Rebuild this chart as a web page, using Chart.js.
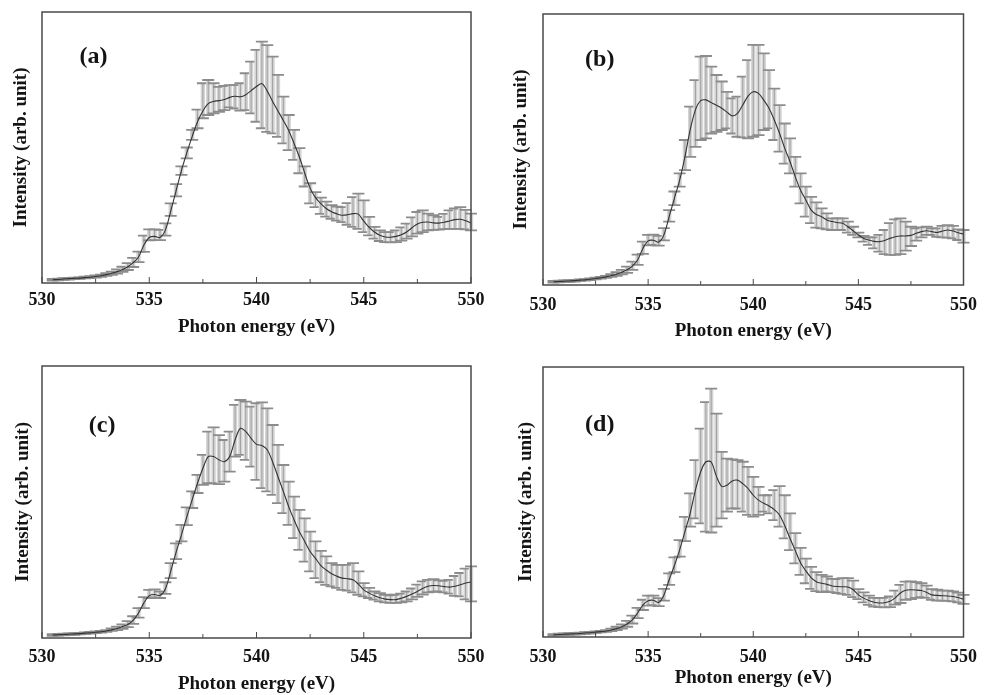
<!DOCTYPE html>
<html>
<head>
<meta charset="utf-8">
<title>O K-edge spectra with error bars</title>
<script src="https://cdn.jsdelivr.net/npm/chart.js@4.4.1/dist/chart.umd.min.js"></script>
<style>
  html, body { margin: 0; padding: 0; background: #fff; }
  #wrap { position: relative; width: 987px; height: 695px; overflow: hidden; }
  canvas { position: absolute; }
</style>
</head>
<body>
<div id="wrap">
  <canvas id="pa" width="494" height="347" style="left:0;top:0"></canvas>
  <canvas id="pb" width="493" height="347" style="left:494px;top:0"></canvas>
  <canvas id="pc" width="494" height="348" style="left:0;top:347px"></canvas>
  <canvas id="pd" width="493" height="348" style="left:494px;top:347px"></canvas>
</div>
<script>
// photon energy (eV), same grid for all four panels
energy = [
  530.5,530.75,531,531.25,531.5,531.75,532,532.25,532.5,532.75,
  533,533.25,533.5,533.75,534,534.25,534.5,534.75,535,535.25,
  535.5,535.75,536,536.25,536.5,536.75,537,537.25,537.5,537.75,
  538,538.25,538.5,538.75,539,539.25,539.5,539.75,540,540.25,
  540.5,540.75,541,541.25,541.5,541.75,542,542.25,542.5,542.75,
  543,543.25,543.5,543.75,544,544.25,544.5,544.75,545,545.25,
  545.5,545.75,546,546.25,546.5,546.75,547,547.25,547.5,547.75,
  548,548.25,548.5,548.75,549,549.25,549.5,549.75,550
];

// (a)
meanA = [
  1.2,1.3,1.5,1.6,1.7,1.8,2.0,2.1,2.4,2.7,
  3.1,3.6,4.2,5.0,6.0,7.5,9.6,14.0,16.8,17.2,
  16.8,19.5,26.5,34.0,41.5,48.0,54.0,59.5,63.5,66.2,
  67.0,67.3,67.7,68.5,68.9,68.7,69.5,71.0,72.5,73.6,
  70.8,67.0,63.5,60.0,56.3,51.5,46.5,40.5,35.0,31.5,
  29.3,27.5,26.3,25.5,25.0,25.2,25.6,25.4,22.8,20.5,
  18.8,17.6,17.0,16.9,17.2,17.8,18.8,20.4,21.8,22.4,
  22.5,22.2,22.1,22.4,22.9,23.4,23.5,23.0,22.1
];
upperA = [
  1.5,1.6,1.8,1.9,2.0,2.1,2.3,2.5,2.8,3.1,
  3.6,4.2,5.0,6.0,7.3,9.3,11.6,17.5,19.8,19.8,
  19.6,22.0,29.4,36.5,43.0,50.0,56.5,64.0,73.7,74.9,
  73.7,72.4,72.7,73.0,73.0,73.7,77.4,81.7,86.0,89.1,
  87.8,83.5,76.8,68.8,62.0,56.5,49.8,43.0,36.8,33.5,
  31.5,30.0,28.7,28.2,28.0,29.5,31.7,33.0,30.5,24.4,
  20.7,19.4,18.8,18.8,19.4,20.5,21.9,24.2,26.2,26.8,
  25.6,25.0,24.4,25.5,26.8,27.5,28.0,27.0,25.6
];
lowerA = [
  0.9,1.0,1.2,1.3,1.4,1.5,1.7,1.8,2.0,2.3,
  2.6,3.0,3.5,4.1,4.8,5.9,7.7,11.5,15.7,15.8,
  15.8,17.5,24.8,32.0,39.9,46.0,52.8,57.1,60.8,62.0,
  62.6,63.2,63.8,64.8,64.4,63.6,63.8,62.6,59.5,57.1,
  55.8,55.2,53.9,51.5,49.0,45.4,40.5,35.6,29.4,28.0,
  25.5,24.5,23.7,23.0,22.5,21.5,20.7,20.0,18.8,17.6,
  16.4,15.5,15.1,15.0,15.1,15.6,16.4,17.2,18.2,18.8,
  19.4,19.6,19.7,19.9,20.0,20.0,20.0,19.8,19.4
];

// (b)
meanB = [
  1.2,1.3,1.4,1.5,1.6,1.8,1.9,2.1,2.4,2.7,
  3.0,3.5,4.0,4.7,5.6,7.0,9.2,13.5,16.3,16.5,
  15.8,18.5,25.2,32.0,38.7,47.3,57.2,64.6,68.0,68.3,
  67.3,66.3,65.2,63.8,62.4,63.3,66.4,69.7,71.3,70.7,
  68.2,65.2,60.9,56.0,50.4,45.5,39.9,35.0,31.4,27.7,
  26.0,25.2,24.0,23.4,23.0,22.8,21.5,20.0,18.5,17.2,
  16.6,16.1,16.0,16.4,17.2,17.8,18.1,18.1,18.3,19.1,
  19.7,20.0,19.7,19.4,19.9,20.3,19.9,19.3,18.8
];
upperB = [
  1.5,1.6,1.7,1.8,1.9,2.1,2.2,2.4,2.7,3.0,
  3.4,4.0,4.7,5.6,6.8,8.6,11.2,16.0,18.5,18.6,
  18.1,21.0,27.6,34.5,41.2,53.5,65.8,75.6,84.3,84.5,
  80.6,77.5,75.1,71.3,68.9,69.5,76.9,83.0,88.6,88.6,
  85.5,79.3,72.5,66.4,59.6,54.1,47.3,41.2,36.3,32.5,
  30.5,28.3,26.4,24.6,24.6,24.6,23.4,21.5,19.3,18.1,
  17.6,17.6,18.5,20.3,22.8,24.2,24.6,23.4,21.5,20.9,
  21.3,21.5,20.9,20.9,21.8,22.1,21.8,20.5,20.3
];
lowerB = [
  0.9,1.0,1.1,1.2,1.3,1.5,1.6,1.8,2.1,2.4,
  2.6,3.0,3.4,3.9,4.5,5.6,7.4,11.5,14.6,14.8,
  14.5,16.5,23.4,29.5,36.3,42.4,47.3,51.0,53.5,54.1,
  55.9,56.5,57.2,57.8,55.9,54.7,54.5,54.1,54.7,55.3,
  57.2,57.8,53.5,49.2,44.8,41.2,36.3,30.1,25.2,22.8,
  21.2,20.9,20.5,20.3,20.3,20.3,19.3,18.5,17.6,16.0,
  14.8,13.5,12.3,11.4,11.1,11.1,11.4,12.7,14.4,16.4,
  17.6,18.5,18.5,17.8,17.6,17.5,17.2,16.6,15.6
];

// (c)
meanC = [
  1.1,1.2,1.3,1.4,1.5,1.6,1.8,1.9,2.1,2.3,
  2.6,3.0,3.5,4.2,5.0,6.5,9.2,12.9,15.6,16.0,
  15.6,18.0,24.5,31.5,37.9,44.5,50.8,56.9,62.4,66.7,
  66.7,65.5,64.8,66.7,72.8,77.1,75.9,73.4,71.2,70.8,
  69.2,64.8,59.3,53.9,48.3,43.5,39.1,35.5,31.8,29.3,
  26.6,25.0,23.6,22.7,22.0,21.8,21.4,19.8,17.7,16.5,
  15.5,14.8,14.3,14.1,14.1,14.6,15.3,16.2,17.1,18.2,
  19.0,19.3,19.2,18.9,18.7,19.0,19.6,20.2,20.6
];
upperC = [
  1.4,1.5,1.6,1.7,1.8,1.9,2.1,2.2,2.4,2.6,
  2.9,3.5,4.2,5.0,6.2,8.0,11.0,15.0,17.7,17.9,
  17.1,20.5,27.5,34.8,41.6,48.0,53.9,60.0,67.3,75.9,
  77.4,74.6,72.8,75.9,85.7,87.5,86.9,85.1,86.3,86.6,
  84.4,78.3,71.0,63.6,57.5,52.0,47.1,44.0,39.1,35.5,
  32.0,30.0,27.5,26.9,26.9,26.9,27.5,24.5,20.2,18.4,
  17.1,16.5,15.9,15.7,15.9,16.3,17.1,18.2,19.6,20.8,
  21.4,21.6,21.2,21.0,21.4,22.8,23.9,25.5,26.3
];
lowerC = [
  0.8,0.9,1.0,1.1,1.2,1.3,1.5,1.6,1.8,2.0,
  2.3,2.6,2.9,3.4,4.0,5.2,7.5,11.0,14.7,14.9,
  14.7,16.2,22.0,29.0,35.5,41.5,47.8,53.3,56.3,56.9,
  56.9,56.6,57.5,61.2,66.7,67.3,65.5,63.0,58.1,55.1,
  53.9,52.6,49.6,45.9,41.6,36.7,32.4,28.1,24.5,22.0,
  20.5,19.5,19.0,18.4,17.7,17.4,16.8,15.9,15.3,14.7,
  14.1,13.5,13.1,12.9,12.9,13.1,13.5,14.2,15.1,16.0,
  16.8,17.0,17.1,16.8,16.3,15.5,15.3,14.2,13.5
];

// (d)
meanD = [
  0.8,0.9,1.0,1.1,1.2,1.3,1.5,1.6,1.8,2.0,
  2.2,2.6,3.1,3.8,4.8,6.3,8.9,11.8,13.4,13.6,
  12.8,15.5,21.2,26.5,32.3,39.0,45.8,54.4,61.2,64.9,
  64.8,59.5,55.8,56.2,57.8,58.1,56.8,55.0,52.5,50.7,
  49.5,48.5,47.2,45.2,41.2,36.5,32.0,27.5,24.5,22.0,
  20.5,19.9,19.5,18.9,18.7,18.6,18.5,17.5,15.6,14.4,
  13.5,12.9,12.6,12.7,13.2,14.5,16.3,17.3,17.5,17.4,
  17.2,16.5,15.6,15.4,15.3,15.2,15.0,14.6,14.0
];
upperD = [
  1.1,1.2,1.3,1.4,1.5,1.6,1.8,1.9,2.1,2.3,
  2.5,3.1,3.8,4.7,6.0,7.9,10.8,13.8,15.3,15.3,
  14.4,17.8,23.6,29.5,35.9,44.5,53.2,65.5,77.2,87.0,
  92.0,82.7,68.6,66.1,65.8,65.5,64.9,63.0,59.3,55.6,
  52.5,52.5,54.4,55.9,52.5,45.8,38.5,33.0,29.0,26.0,
  24.0,23.0,22.4,21.5,21.4,21.8,21.8,20.9,17.7,16.5,
  15.3,14.5,14.4,14.5,15.0,17.2,19.3,20.5,20.6,20.3,
  19.9,19.0,17.7,17.5,17.2,17.2,16.9,16.4,15.6
];
lowerD = [
  0.5,0.6,0.7,0.8,0.9,1.0,1.2,1.3,1.5,1.7,
  1.9,2.2,2.6,3.1,3.8,5.0,7.0,10.0,11.6,11.8,
  11.4,13.5,19.3,24.0,29.8,35.5,40.9,43.9,42.1,39.0,
  38.7,40.9,43.9,46.4,47.6,47.6,46.4,45.2,44.6,45.2,
  46.4,45.8,43.3,40.9,36.5,32.2,27.3,23.0,19.9,17.8,
  17.0,16.6,16.9,16.6,16.3,16.0,15.6,14.8,14.0,12.8,
  11.9,11.3,11.1,11.0,11.1,12.0,12.6,13.8,14.0,14.5,
  14.8,14.5,13.8,13.5,13.5,13.4,13.2,12.8,12.3
];

panelLabels = ["(a)", "(b)", "(c)", "(d)"];
xTitle = "Photon energy (eV)";
yTitle = "Intensity (arb. unit)";

const serif = "'Liberation Serif', 'DejaVu Serif', serif";
const ink = "#141414";

// error bars are drawn under the mean curve
const errorBars = {
  id: "errorBars",
  beforeDatasetsDraw(chart) {
    const ds = chart.data.datasets[0];
    const xs = chart.scales.x, ys = chart.scales.y;
    const ctx = chart.ctx;
    ctx.save();
    ds.data.forEach((p, i) => {
      const px = xs.getPixelForValue(p.x);
      const top = ys.getPixelForValue(ds.upper[i]);
      const bot = ys.getPixelForValue(ds.lower[i]);
      // soft body of the bar
      ctx.strokeStyle = "#d4d4d4";
      ctx.lineWidth = 4.4;
      ctx.beginPath();
      ctx.moveTo(px, top);
      ctx.lineTo(px, bot);
      ctx.stroke();
      ctx.strokeStyle = "#9a9a9a";
      ctx.lineWidth = 0.9;
      ctx.beginPath();
      ctx.moveTo(px, top);
      ctx.lineTo(px, bot);
      ctx.stroke();
      // caps
      ctx.strokeStyle = "#8c8c8c";
      ctx.lineWidth = 1.8;
      ctx.beginPath();
      ctx.moveTo(px - 6, top); ctx.lineTo(px + 6, top);
      ctx.moveTo(px - 6, bot); ctx.lineTo(px + 6, bot);
      ctx.stroke();
    });
    ctx.restore();
  }
};

// frame, inward ticks and the panel letter
const frame = {
  id: "frame",
  afterDraw(chart, args, opts) {
    const {ctx, chartArea: a} = chart;
    const xs = chart.scales.x, ys = chart.scales.y;
    ctx.save();
    ctx.strokeStyle = "#4a4a4a";
    ctx.lineWidth = 1.5;
    ctx.strokeRect(a.left, a.top, a.right - a.left, a.bottom - a.top);
    ctx.lineWidth = 1;
    ctx.beginPath();
    xs.ticks.forEach(t => {
      const px = xs.getPixelForValue(t.value);
      const len = t.value % 5 === 0 ? 6 : 4;
      ctx.moveTo(px, a.bottom);
      ctx.lineTo(px, a.bottom - len);
    });
    ctx.stroke();
    ctx.fillStyle = ink;
    ctx.font = "bold 24px " + serif;
    ctx.textAlign = "center";
    ctx.textBaseline = "middle";
    ctx.fillText(opts.text, xs.getPixelForValue(opts.x), ys.getPixelForValue(opts.y));
    ctx.restore();
  }
};

function makePanel(id, label, mean, upper, lower, lay) {
  new Chart(document.getElementById(id), {
    type: "line",
    data: {
      datasets: [{
        data: energy.map((e, i) => ({x: e, y: mean[i]})),
        upper: upper,
        lower: lower,
        borderColor: "#333333",
        borderWidth: 1.1,
        pointRadius: 0,
        tension: 0.3,
        fill: false
      }]
    },
    options: {
      responsive: false,
      animation: false,
      layout: { padding: { left: 0, top: lay.top, right: lay.right, bottom: 0 } },
      plugins: {
        legend: { display: false },
        tooltip: { enabled: false },
        frame: { text: label, x: lay.lx, y: lay.ly }
      },
      scales: {
        x: {
          type: "linear",
          min: 530,
          max: 550,
          grid: { display: false, drawTicks: false },
          border: { display: false },
          ticks: {
            stepSize: 2.5,
            autoSkip: false,
            maxRotation: 0,
            padding: lay.tickPad,
            color: ink,
            font: { family: serif, size: 18, weight: "bold" },
            callback: v => (v % 5 === 0 ? String(v) : "")
          },
          title: {
            display: true,
            text: xTitle,
            color: ink,
            font: { family: serif, size: 19, weight: "bold" },
            padding: { top: 0, bottom: lay.xTitlePad }
          },
          afterFit: s => { s.height = lay.xh; }
        },
        y: {
          min: 0,
          max: 100,
          grid: { display: false, drawTicks: false },
          border: { display: false },
          ticks: { display: false },
          title: {
            display: true,
            text: yTitle,
            color: ink,
            font: { family: serif, size: 19, weight: "bold" },
            padding: { top: lay.yTitlePad, bottom: 0 }
          },
          afterFit: s => { s.width = lay.left; }
        }
      }
    },
    plugins: [errorBars, frame]
  });
}

makePanel("pa", panelLabels[0], meanA, upperA, lowerA,
  { left: 42, top: 12, right: 23, xh: 64, tickPad: 7, xTitlePad: 8.6, yTitlePad: 9.6, lx: 532.4, ly: 83.4 });
makePanel("pb", panelLabels[1], meanB, upperB, lowerB,
  { left: 49, top: 14, right: 15, xh: 62, tickPad: 10, xTitlePad: 4.6, yTitlePad: 15.6, lx: 532.7, ly: 83 });
makePanel("pc", panelLabels[2], meanC, upperC, lowerC,
  { left: 42, top: 19, right: 23, xh: 57, tickPad: 9, xTitlePad: 0, yTitlePad: 12, lx: 532.8, ly: 78 });
makePanel("pd", panelLabels[3], meanD, upperD, lowerD,
  { left: 49, top: 20, right: 15, xh: 58, tickPad: 10, xTitlePad: 5.6, yTitlePad: 20.6, lx: 532.7, ly: 78.7 });
</script>
</body>
</html>
